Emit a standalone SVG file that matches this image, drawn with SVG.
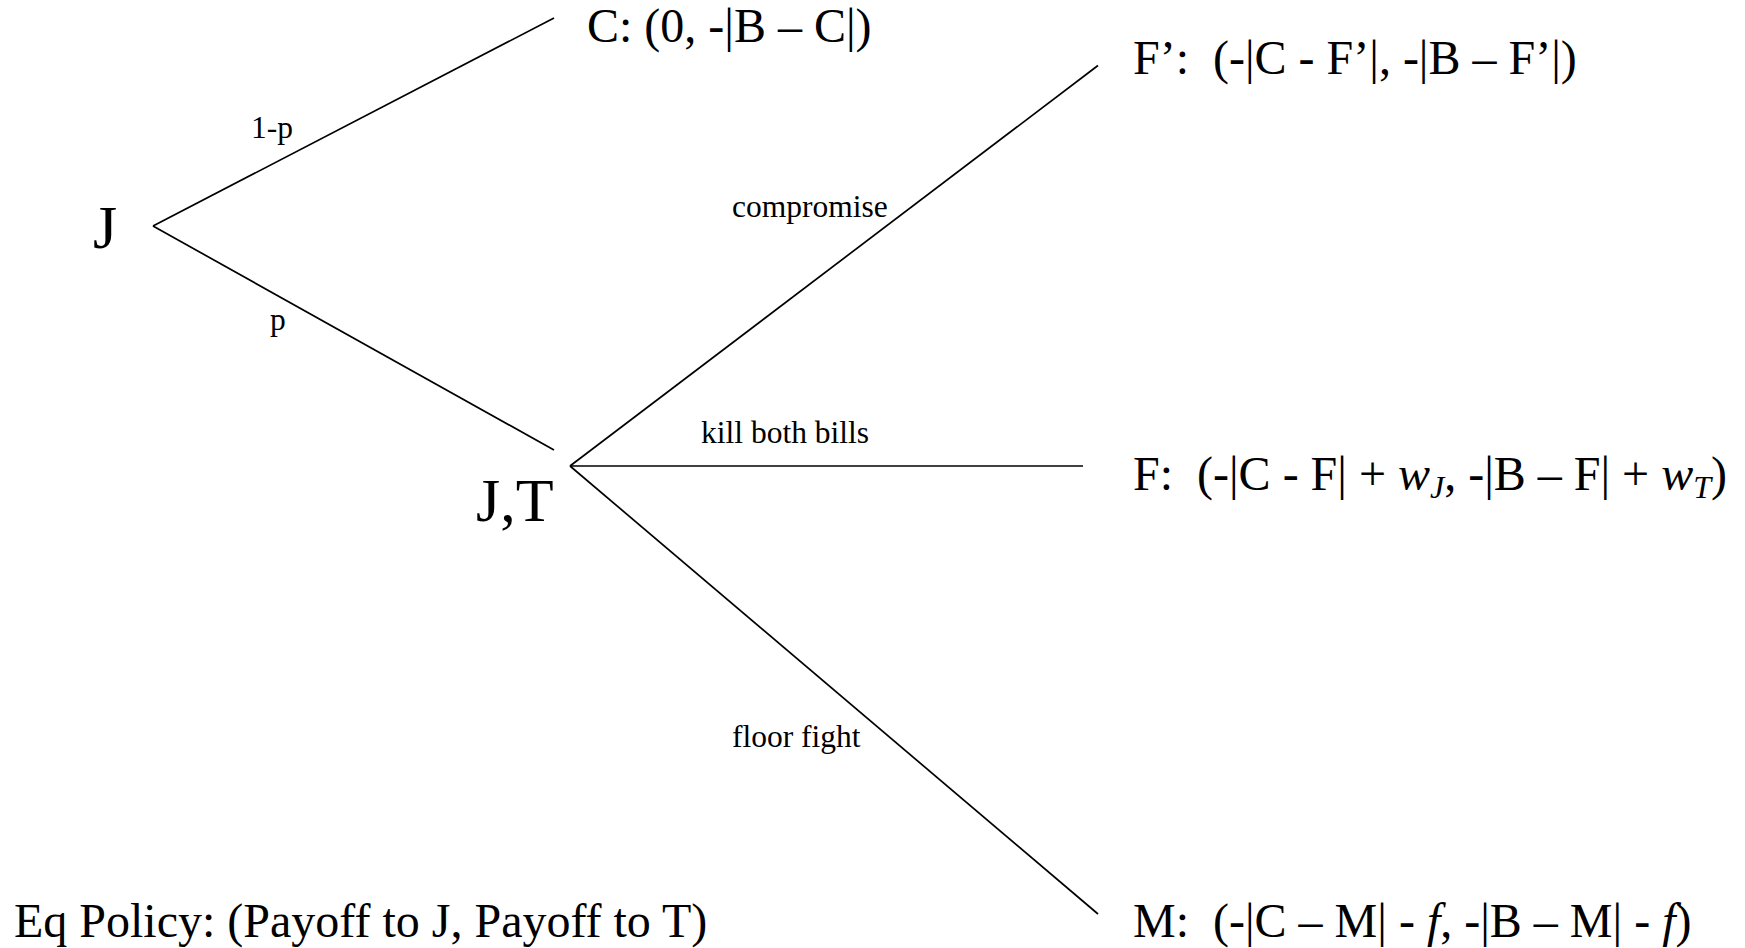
<svg xmlns="http://www.w3.org/2000/svg" width="1745" height="948" viewBox="0 0 1745 948">
  <style>
    text { font-family: "Liberation Serif", "Times New Roman", serif; fill: #000; white-space: pre; }
    .big { font-size: 62px; }
    .pay { font-size: 48px; }
    .lbl { font-size: 31.5px; }
    .it { font-style: italic; }
    .sub { font-style: italic; font-size: 32px; }
    .edge { stroke: #000; stroke-width: 1.7; fill: none; }
  </style>
  <rect width="1745" height="948" fill="#fff"/>
  <g id="connectors">
    <line class="edge" x1="153" y1="226" x2="554" y2="18"/>
    <line class="edge" x1="153" y1="226" x2="554" y2="450"/>
    <line class="edge" x1="570" y1="466" x2="1098" y2="65.5"/>
    <line class="edge" x1="570" y1="466" x2="1083" y2="466"/>
    <line class="edge" x1="570" y1="466" x2="1098" y2="914"/>
    <text class="lbl" x="251" y="138">1-p</text>
    <text class="lbl" x="270" y="330">p</text>
    <text class="lbl" x="732" y="217">compromise</text>
    <text class="lbl" x="701" y="443">kill both bills</text>
    <text class="lbl" x="732" y="747">floor fight</text>
  </g>
  <g id="node-J">
    <text class="big" x="93" y="248">J</text>
  </g>
  <g id="node-JT">
    <text class="big" x="476" y="521">J,T</text>
  </g>
  <g id="node-C">
    <text class="pay" x="587" y="42">C: (0, -|B – C|)</text>
  </g>
  <g id="node-Fprime">
    <text class="pay" x="1133" y="74">F’:  (-|C - F’|, -|B – F’|)</text>
  </g>
  <g id="node-F">
    <text class="pay" x="1133" y="490">F:  (-|C - F| + <tspan class="it">w</tspan><tspan class="sub" dy="8">J</tspan><tspan dy="-8">, -|B – F| + </tspan><tspan class="it">w</tspan><tspan class="sub" dy="8">T</tspan><tspan dy="-8">)</tspan></text>
  </g>
  <g id="node-M">
    <text class="pay" x="1133" y="937">M:  (-|C – M| - <tspan class="it">f</tspan>, -|B – M| - <tspan class="it">f</tspan>)</text>
  </g>
  <g id="legend">
    <text class="pay" x="14" y="937">Eq Policy: (Payoff to J, Payoff to T)</text>
  </g>
</svg>
